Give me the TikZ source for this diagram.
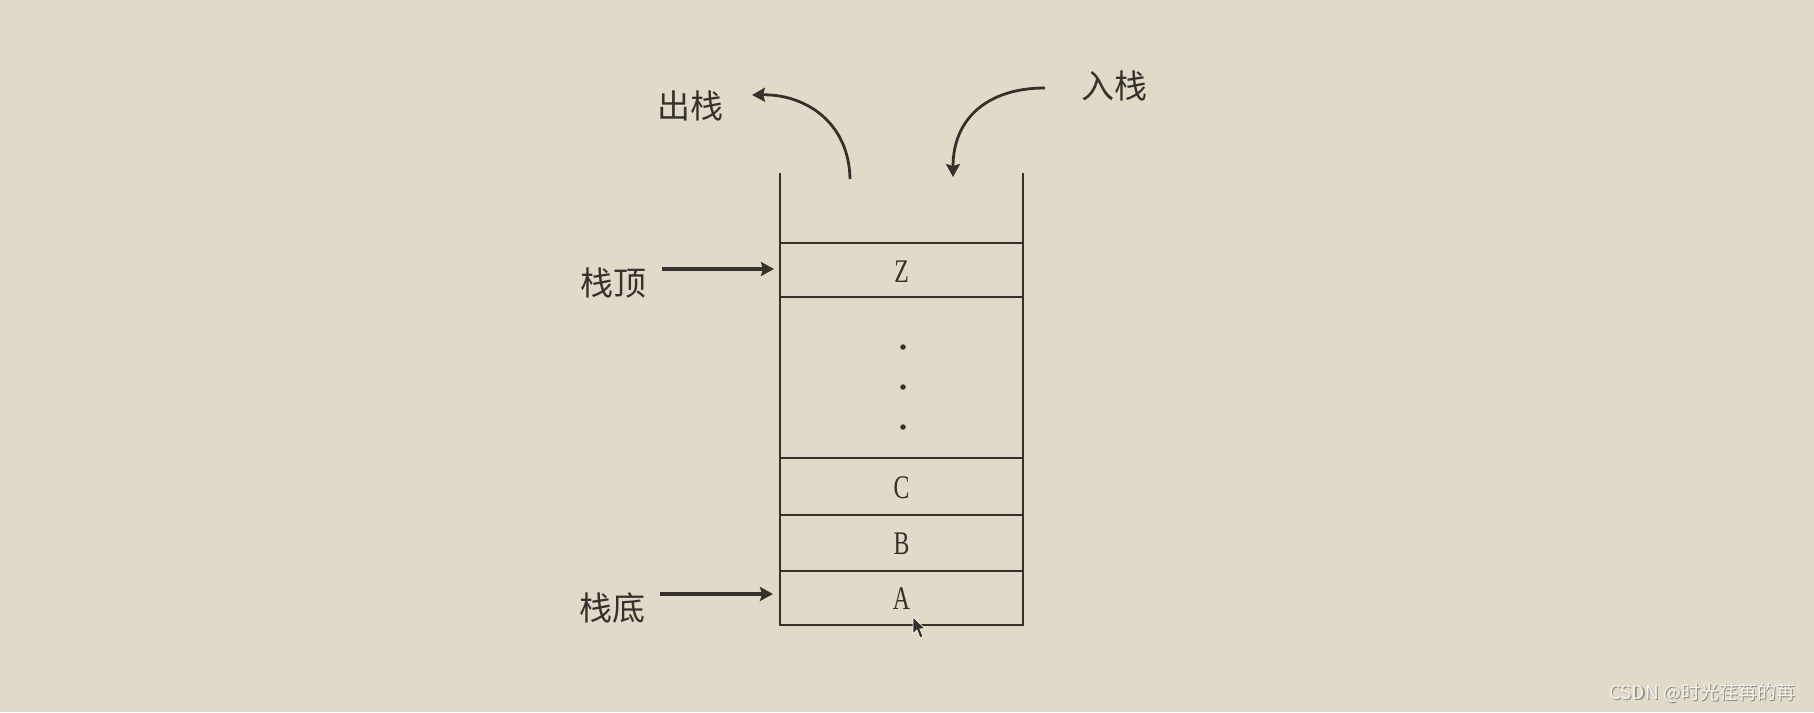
\documentclass[tikz,border=0pt]{standalone}
\usepackage{fontspec}
\usepackage{graphicx}
\setmainfont{Liberation Serif}
\newfontfamily\cjk{Noto Sans CJK SC}
\usetikzlibrary{arrows.meta}
\definecolor{bgc}{HTML}{E0DAC8}
\definecolor{ink}{HTML}{36312B}
\definecolor{wmark}{HTML}{F4F2EC}
\definecolor{wshadow}{HTML}{8E8A80}
\tikzset{
  wall/.style={draw=ink, line width=2.5pt},
  lbl/.style={text=ink, inner sep=0pt, font=\cjk\fontsize{33}{38}\selectfont},
  cell/.style={text=ink, inner sep=0pt, font=\fontsize{33}{38}\selectfont},
  ptr/.style={draw=ink, line width=3.4pt, -{Stealth[length=13pt,width=14pt,inset=2pt]}},
  flow/.style={draw=ink, line width=2.8pt, -{Stealth[length=13pt,width=14pt,inset=2pt]}},
  dotc/.style={fill=ink, draw=none, circle, minimum size=5.5pt, inner sep=0pt},
}
\begin{document}
\begin{tikzpicture}[x=1pt,y=-1pt]
\fill[bgc] (0,0) rectangle (1814,712);
\useasboundingbox (0,0) rectangle (1814,712);

% stack walls and separators
\coordinate (tl) at (780,173);
\coordinate (tr) at (1023,173);
\coordinate (bl) at (780,625);
\coordinate (br) at (1023,625);
\draw[wall] (tl) -- (bl) -- (br) -- (tr);
\foreach \yy in {243,297,458,515,571} {
  \draw[wall] (780,\yy) -- (1023,\yy);
}

% cells
\node[cell] (z) at (901.5,272) {\scalebox{0.72}[1]{Z}};
\node[cell] (c) at (901.5,488) {\scalebox{0.72}[1]{C}};
\node[cell] (b) at (901.5,544) {\scalebox{0.72}[1]{B}};
\node[cell] (a) at (901.5,599) {\scalebox{0.72}[1]{A}};
\node[dotc] (d1) at (903,347) {};
\node[dotc] (d2) at (903,387) {};
\node[dotc] (d3) at (903,427) {};

% labels
\node[lbl] (pop) at (690,106) {出栈};
\node[lbl] (push) at (1114,86) {入栈};
\node[lbl] (top) at (613,283) {栈顶};
\node[lbl] (bot) at (612,608) {栈底};

% pointer arrows
\coordinate (topS) at (662,269);
\coordinate (topE) at (774,269);
\coordinate (botS) at (660,594);
\coordinate (botE) at (773,594);
\draw[ptr] (topS) -- (topE);
\draw[ptr] (botS) -- (botE);

% pop / push arrows
\coordinate (popS) at (850,179);
\coordinate (popE) at (752,95);
\draw[flow] (popS) .. controls (849,122) and (805,94) .. (popE);
\coordinate (pushS) at (1045,88);
\coordinate (pushE) at (953,177);
\draw[flow] (pushS) .. controls (988,88) and (953,118) .. (pushE);

% mouse cursor
\filldraw[fill=ink, draw=wmark, line width=0.8pt]
  (913,617) -- (913,634) -- (917,630) -- (920,638) -- (923,636.5) -- (920,629) -- (925,628.5) -- cycle;

% watermark
\node[text=wshadow, inner sep=0pt, font=\cjk\fontsize{19}{22}\selectfont] (wms) at (1703.2,694.2) {CSDN @时光荏苒的苒};
\node[text=wmark, inner sep=0pt, font=\cjk\fontsize{19}{22}\selectfont] (wm) at (1702,693) {CSDN @时光荏苒的苒};
\end{tikzpicture}
\end{document}
